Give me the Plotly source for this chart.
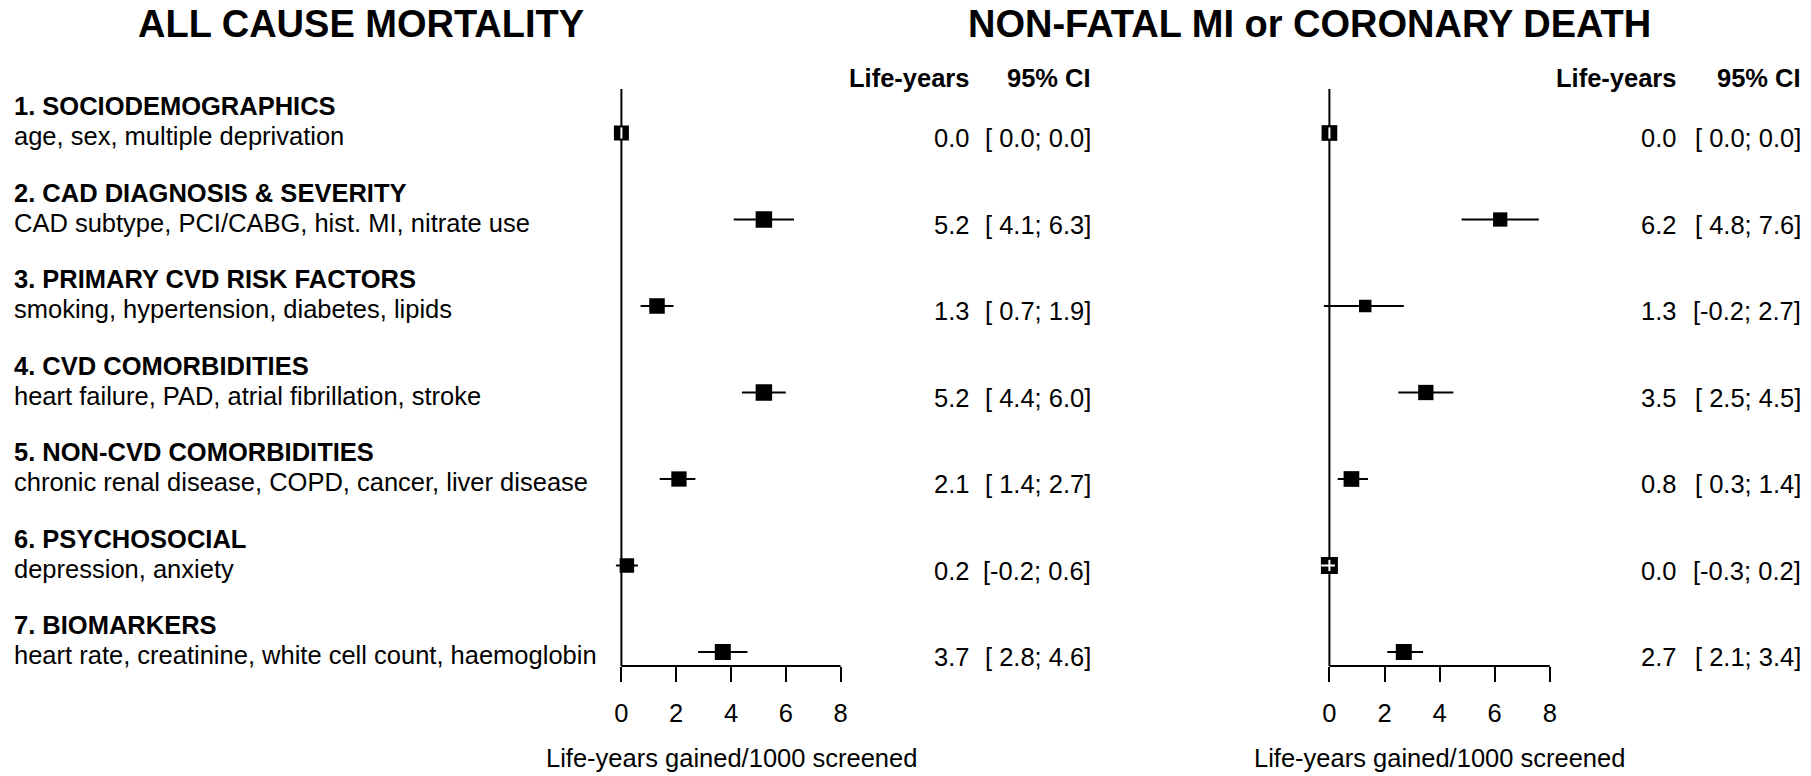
import plotly.graph_objects as go

# ---------------- data ----------------
groups = ["1. SOCIODEMOGRAPHICS", "2. CAD DIAGNOSIS & SEVERITY", "3. PRIMARY CVD RISK FACTORS",
          "4. CVD COMORBIDITIES", "5. NON-CVD COMORBIDITIES", "6. PSYCHOSOCIAL", "7. BIOMARKERS"]
descriptions = ["age, sex, multiple deprivation",
                "CAD subtype, PCI/CABG, hist. MI, nitrate use",
                "smoking, hypertension, diabetes, lipids",
                "heart failure, PAD, atrial fibrillation, stroke",
                "chronic renal disease, COPD, cancer, liver disease",
                "depression, anxiety",
                "heart rate, creatinine, white cell count, haemoglobin"]
rows = [1, 2, 3, 4, 5, 6, 7]

acm_est = [0.0, 5.2, 1.3, 5.2, 2.1, 0.2, 3.7]
acm_lo = [0.0, 4.1, 0.7, 4.4, 1.4, -0.2, 2.8]
acm_hi = [0.0, 6.3, 1.9, 6.0, 2.7, 0.6, 4.6]

mi_est = [0.0, 6.2, 1.3, 3.5, 0.8, 0.0, 2.7]
mi_lo = [0.0, 4.8, -0.2, 2.5, 0.3, -0.3, 2.1]
mi_hi = [0.0, 7.6, 2.7, 4.5, 1.4, 0.2, 3.4]

tick_values = [0, 2, 4, 6, 8]
panel_titles = ["ALL CAUSE MORTALITY", "NON-FATAL MI or CORONARY DEATH"]
axis_title = "Life-years gained/1000 screened"
col_headers = ["Life-years", "95% CI"]

# ---------------- layout / style ----------------
W, H = 1811, 776
FONT = "Liberation Sans, Arial, Helvetica, sans-serif"
FS = 25.5
TOP_PX, AXIS_PX, ROW1_PX, ROW_STEP = 89, 666, 133, 86.5
XMIN, XMAX = -1.2, 8.6

panels = [
    dict(est=acm_est, lo=acm_lo, hi=acm_hi, zero_px=621.4, ppu=27.4,
         est_col=970.6, ci_col=1093.0, title_x=361,
         box=[15, 16.5, 15.5, 16.5, 15.3, 14.5, 16]),
    dict(est=mi_est, lo=mi_lo, hi=mi_hi, zero_px=1329.4, ppu=27.55,
         est_col=1678.0, ci_col=1803.0, title_x=1309,
         box=[15.7, 14.3, 12.5, 15.3, 15.7, 17, 16]),
]

y_top = 1 - (ROW1_PX - TOP_PX) / ROW_STEP
y_bot = 7 + (AXIS_PX - (ROW1_PX + 6 * ROW_STEP)) / ROW_STEP
dom_y = [(H - AXIS_PX) / H, (H - TOP_PX) / H]
span_px = AXIS_PX - TOP_PX

fig = go.Figure()
annotations = []
shapes = []

for i, p in enumerate(panels):
    xa = "x" if i == 0 else "x2"
    axname = "xaxis" if i == 0 else "xaxis2"
    dom = [(p["zero_px"] + XMIN * p["ppu"]) / W, (p["zero_px"] + XMAX * p["ppu"]) / W]
    fig.update_layout(**{axname: dict(
        domain=dom, range=[XMIN, XMAX], anchor="y",
        showgrid=False, zeroline=False, showline=False,
        tickmode="array", tickvals=tick_values,
        ticktext=[str(v) for v in tick_values],
        ticks="outside", ticklen=15, tickwidth=2, tickcolor="black",
        ticklabelstandoff=9,
        tickfont=dict(family=FONT, size=FS, color="black"),
        fixedrange=True)})

    est, lo, hi = p["est"], p["lo"], p["hi"]
    fig.add_trace(go.Scatter(
        x=est, y=rows, xaxis=xa, yaxis="y", mode="markers",
        marker=dict(symbol="square", size=p["box"], color="black", opacity=1,
                    line=dict(width=0)),
        error_x=dict(type="data", symmetric=False,
                     array=[h - e for h, e in zip(hi, est)],
                     arrayminus=[e - l for e, l in zip(est, lo)],
                     color="black", thickness=2, width=0),
        cliponaxis=False, showlegend=False, hoverinfo="skip"))

    # white inner marks where the CI / reference line falls inside the box
    for r, e, l, h, b in zip(rows, est, lo, hi, p["box"]):
        if e == 0:
            fig.add_trace(go.Scatter(
                x=[e], y=[r], xaxis=xa, yaxis="y", mode="markers",
                marker=dict(symbol="line-ns", size=8, color="white", opacity=1,
                            line=dict(color="white", width=2)),
                showlegend=False, hoverinfo="skip", cliponaxis=False))
        if h > l and (h - e) * p["ppu"] < b / 2 and (e - l) * p["ppu"] < b / 2:
            fig.add_trace(go.Scatter(
                x=[l, h], y=[r, r], xaxis=xa, yaxis="y", mode="lines",
                line=dict(color="white", width=2),
                showlegend=False, hoverinfo="skip", cliponaxis=False))

    # reference line at zero and the axis line
    shapes.append(dict(type="line", xref=xa, yref="y domain", x0=0, x1=0, y0=0, y1=1,
                       line=dict(color="black", width=2), layer="below"))
    shapes.append(dict(type="line", xref=xa, yref="y domain", x0=tick_values[0],
                       x1=tick_values[-1], y0=0, y1=0,
                       line=dict(color="black", width=2), layer="below"))

    # panel title
    annotations.append(dict(text="<b>%s</b>" % panel_titles[i], xref="paper", yref="paper",
                            x=p["title_x"] / W, y=(H - 24) / H, xanchor="center",
                            yanchor="middle", showarrow=False,
                            font=dict(family=FONT, size=38, color="black")))
    # column headers
    annotations.append(dict(text="<b>%s</b>" % col_headers[0], xref="paper", yref="y domain",
                            x=p["est_col"] / W, y=(AXIS_PX - 78) / span_px,
                            xanchor="right", yanchor="middle", showarrow=False,
                            font=dict(family=FONT, size=FS, color="black")))
    annotations.append(dict(text="<b>%s</b>" % col_headers[1], xref="paper", yref="y domain",
                            x=p["ci_col"] / W, y=(AXIS_PX - 78) / span_px,
                            xanchor="right", yanchor="middle", showarrow=False,
                            font=dict(family=FONT, size=FS, color="black")))
    # values
    for r, e, l, h in zip(rows, est, lo, hi):
        annotations.append(dict(text="%.1f" % e, xref="paper", yref="y",
                                x=p["est_col"] / W, y=r + 5 / ROW_STEP,
                                xanchor="right", yanchor="middle", showarrow=False,
                                font=dict(family=FONT, size=FS, color="black")))
        annotations.append(dict(text="[%4.1f;%4.1f]" % (l, h), xref="paper", yref="y",
                                x=p["ci_col"] / W, y=r + 5 / ROW_STEP,
                                xanchor="right", yanchor="middle", showarrow=False,
                                font=dict(family=FONT, size=FS, color="black")))
    # axis title
    annotations.append(dict(text=axis_title, xref=xa, yref="y domain",
                            x=(tick_values[0] + tick_values[-1]) / 2,
                            y=(AXIS_PX - 758) / span_px,
                            xanchor="center", yanchor="middle", showarrow=False,
                            font=dict(family=FONT, size=FS, color="black")))

# row labels
for r, g, d in zip(rows, groups, descriptions):
    annotations.append(dict(text="<b>%s</b>" % g, xref="paper", yref="y",
                            x=12 / W, y=r - 27 / ROW_STEP, xanchor="left", yanchor="middle",
                            showarrow=False, font=dict(family=FONT, size=FS, color="black")))
    annotations.append(dict(text=d, xref="paper", yref="y",
                            x=12 / W, y=r + 3 / ROW_STEP, xanchor="left", yanchor="middle",
                            showarrow=False, font=dict(family=FONT, size=FS, color="black")))

fig.update_layout(
    width=W, height=H, margin=dict(l=0, r=0, t=0, b=0, pad=0),
    paper_bgcolor="white", plot_bgcolor="white",
    yaxis=dict(domain=dom_y, range=[y_bot, y_top], visible=False, fixedrange=True),
    annotations=annotations, shapes=shapes, showlegend=False, hovermode=False,
)

fig.write_html("out.html", config={"displayModeBar": False},
               post_script="document.body.style.margin='0';document.body.style.padding='0';"
                           "document.body.style.overflow='hidden';")
